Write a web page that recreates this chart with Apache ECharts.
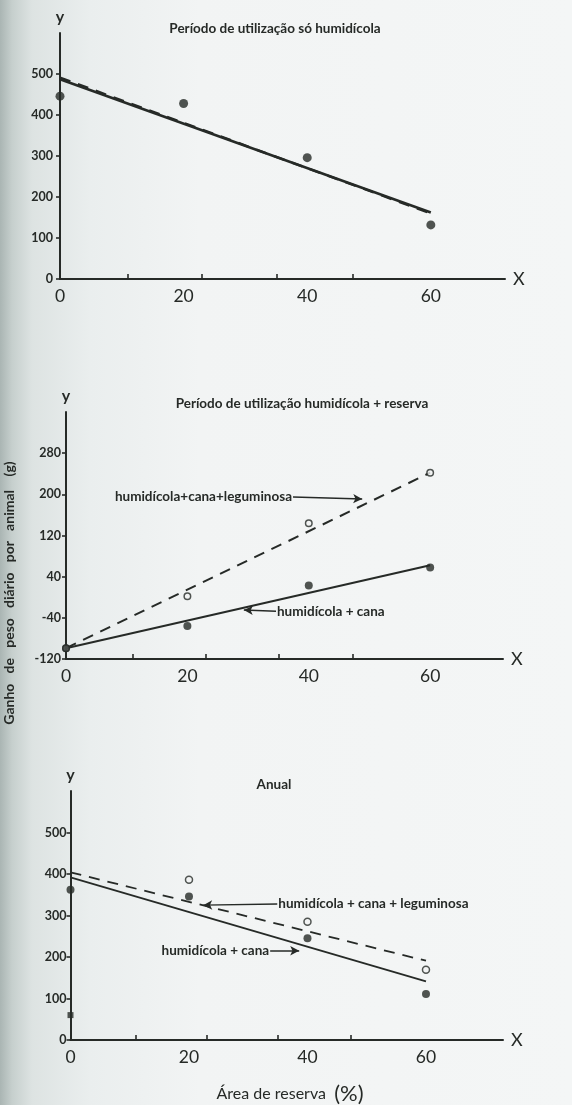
<!DOCTYPE html>
<html><head><meta charset="utf-8">
<script src="https://cdn.jsdelivr.net/npm/echarts@6/dist/echarts.min.js"></script>
<style>
html,body{margin:0;padding:0;}
#c{width:572px;height:1105px;background:linear-gradient(90deg,#aab5b3 0px,#c6cfcd 12px,#dde3e2 32px,#eaeeee 90px,#f2f4f4 200px,#f4f6f6 572px);}
</style></head>
<body><div id="c"></div>
<script>
// ---------- data ----------
const xValues = [0, 20, 40, 60];
const fitX = [0, 60];
const xLabelValues = [0, 20, 40, 60];
const xTickValues = [11, 23, 35, 47.3];

// Panel 1: Período de utilização só humidícola
const p1Obs = [446, 428, 296, 132];
const p1FitSolid = [487, 162];
const p1FitDashed = [491, 160];
const p1YLabels = [0, 100, 200, 300, 400, 500];

// Panel 2: Período de utilização humidícola + reserva
const p2LegObs = [-99, 2, 144, 242];
const p2CanaObs = [-99, -56, 23, 58];
const p2FitLeg = [-99, 242];
const p2FitCana = [-99, 62];
const p2YLabels = [-120, -40, 40, 120, 200, 280];

// Panel 3: Anual
const p3LegObs = [null, 386, 285, 169];
const p3CanaObs = [362, 346, 245, 111];
const p3ExtraX = [0];
const p3Extra = [60];
const p3FitLeg = [404, 191];
const p3FitCana = [392, 141];
const p3YLabels = [0, 100, 200, 300, 400, 500];

const titles = ['Período de utilização só humidícola', 'Período de utilização humidícola + reserva', 'Anual'];
const labLeg = 'humidícola+cana+leguminosa';
const labLeg3 = 'humidícola + cana + leguminosa';
const labCana = 'humidícola + cana';
const yTitle = 'Ganho   de   peso   diário   por   animal    (g)';
const xTitle = 'Área de reserva';

// ---------- helpers ----------
const INK = '#262a27';
const FONT = 'Lato, "DejaVu Sans", sans-serif';
const pairs = (xs, ys) => xs.map((x, i) => [x, ys[i]]).filter(p => p[1] != null);

function xAxisCfg(gi, max) {
  return {
    type: 'value', gridIndex: gi, min: 0, max: max,
    name: 'X', nameLocation: 'end', nameGap: 8,
    nameTextStyle: {color: INK, fontSize: 18, fontFamily: FONT},
    axisLine: {show: true, lineStyle: {color: INK, width: 2}, onZero: false},
    axisTick: {show: true, inside: true, length: 5, lineStyle: {color: INK, width: 1.6}, customValues: xTickValues},
    axisLabel: {show: true, color: INK, fontSize: 17.5, fontFamily: FONT, margin: 8, customValues: xLabelValues},
    splitLine: {show: false}
  };
}
function yAxisCfg(gi, min, max, labels, margin) {
  return {
    type: 'value', gridIndex: gi, min: min, max: max,
    name: 'y', nameLocation: 'end', nameGap: 8,
    nameTextStyle: {color: INK, fontSize: 16, fontFamily: FONT, fontWeight: 'bold'},
    axisLine: {show: true, lineStyle: {color: INK, width: 2}, onZero: false},
    axisTick: {show: true, inside: false, length: 4, lineStyle: {color: INK, width: 1.6}, customValues: labels},
    axisLabel: {show: true, color: INK, fontSize: 12.5, fontFamily: FONT, fontWeight: 'bold', margin: margin, customValues: labels},
    splitLine: {show: false}
  };
}
function fitLine(gi, ys, dashed, width, markLine) {
  const s = {
    type: 'line', xAxisIndex: gi, yAxisIndex: gi, data: pairs(fitX, ys),
    symbol: 'none', silent: true, z: 3,
    lineStyle: {color: INK, width: width, type: dashed ? [11, 8] : 'solid'}
  };
  if (markLine) s.markLine = markLine;
  return s;
}
function dots(gi, xs, ys, open, size, symbol) {
  return {
    type: 'scatter', xAxisIndex: gi, yAxisIndex: gi, data: pairs(xs, ys),
    symbol: symbol || 'circle', symbolSize: size, z: open ? 5 : 6,
    itemStyle: open ? {color: '#f2f4f4', borderColor: INK, borderWidth: 1.5} : {color: INK}
  };
}
function arrow(from, to, text) {
  return {
    silent: true, symbol: ['none', 'arrow'], symbolSize: [7, 9],
    lineStyle: {color: INK, width: 1.5, type: 'solid'},
    label: {show: true, position: 'start', distance: 1, formatter: text, color: INK,
            fontSize: 13.5, fontFamily: FONT, fontWeight: 'bold'},
    data: [[{coord: from}, {coord: to}]]
  };
}

const TSTYLE = {color: INK, fontSize: 13.5, fontFamily: FONT, fontWeight: 'bold'};
const chart = echarts.init(document.getElementById('c'), null, {renderer: 'canvas'});
chart.setOption({
  backgroundColor: 'transparent',
  animation: false,
  title: [
    {text: titles[0], left: 270, top: 17, textAlign: 'center', textStyle: TSTYLE},
    {text: titles[1], left: 297, top: 392, textAlign: 'center', textStyle: TSTYLE},
    {text: titles[2], left: 269, top: 773, textAlign: 'center', textStyle: TSTYLE}
  ],
  grid: [
    {left: 60, right: 67, top: 33, bottom: 826},
    {left: 66, right: 69, top: 412, bottom: 446},
    {left: 70.5, right: 69, top: 791, bottom: 65}
  ],
  xAxis: [xAxisCfg(0, 72), xAxisCfg(1, 72), xAxisCfg(2, 73)],
  yAxis: [
    yAxisCfg(0, 0, 600, p1YLabels, 7),
    yAxisCfg(1, -120, 360, p2YLabels, 5),
    yAxisCfg(2, 0, 600, p3YLabels, 4)
  ],
  graphic: [
    {type: 'text', x: 2, y: 593, rotation: Math.PI / 2, style: {
      text: yTitle, fill: INK, font: 'bold 14px ' + FONT, textAlign: 'center', textVerticalAlign: 'top'}},
    {type: 'text', x: 290, y: 1094, style: {
      rich: {a: {fontSize: 16, fontFamily: FONT, fill: INK}, b: {fontSize: 22, fontFamily: FONT, fill: INK}},
      text: '{a|' + xTitle + '  }{b|(%)}', textAlign: 'center', textVerticalAlign: 'middle'}}
  ],
  series: [
    // panel 1
    fitLine(0, p1FitDashed, true, 2.4),
    fitLine(0, p1FitSolid, false, 2.6),
    dots(0, xValues, p1Obs, false, 9),
    // panel 2
    fitLine(1, p2FitLeg, true, 2, arrow([37.4, 195], [48.8, 191], labLeg)),
    fitLine(1, p2FitCana, false, 2, arrow([34.6, -27], [29.3, -25], labCana)),
    dots(1, xValues, p2LegObs, true, 6.5),
    dots(1, xValues, p2CanaObs, false, 8),
    // panel 3
    fitLine(2, p3FitLeg, true, 1.8, arrow([34.9, 328], [22.4, 325], labLeg3)),
    fitLine(2, p3FitCana, false, 1.8, arrow([33.7, 215], [38.6, 215], labCana)),
    dots(2, xValues, p3LegObs, true, 7),
    dots(2, xValues, p3CanaObs, false, 8),
    dots(2, p3ExtraX, p3Extra, false, 6, 'rect')
  ]
});
</script>
</body></html>
